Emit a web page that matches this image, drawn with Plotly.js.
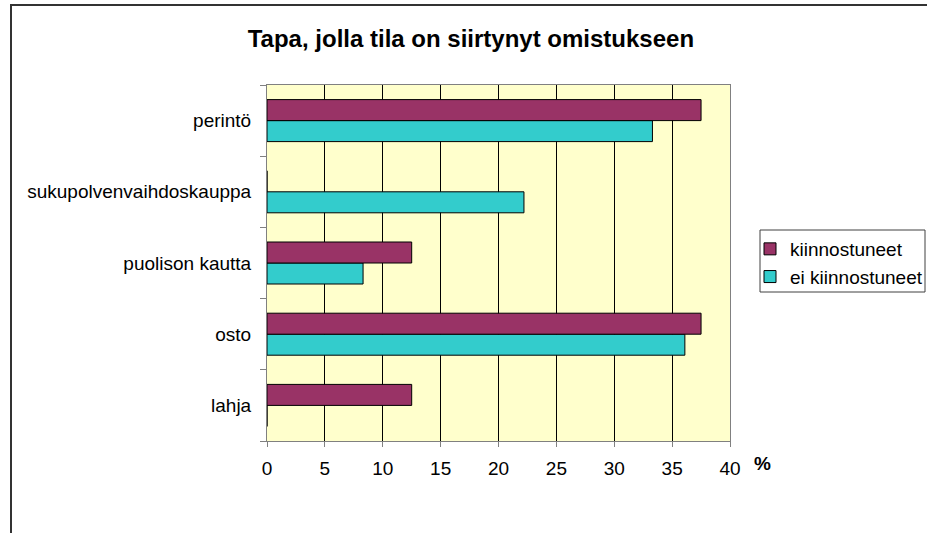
<!DOCTYPE html>
<html>
<head>
<meta charset="utf-8">
<script src="https://cdn.plot.ly/plotly-3.0.1.min.js"></script>
<style>
  html, body { margin: 0; padding: 0; background: #fff; }
  #wrap { position: relative; width: 927px; height: 533px; overflow: hidden; }
  #chart { position: absolute; left: 0; top: 0; width: 927px; height: 533px; }
  #frame { position: absolute; left: 10px; top: 4px; width: 1000px; height: 600px;
           border-left: 2px solid #333; border-top: 2px solid #333; pointer-events: none; }
</style>
</head>
<body>
<div id="wrap">
  <div id="chart"></div>
  <div id="frame"></div>
</div>
<script>
// Data (categories listed bottom to top)
const categories = ["lahja", "osto", "puolison kautta", "sukupolvenvaihdoskauppa", "perintö"];
const kiinnostuneet = [12.5, 37.5, 12.5, 0, 37.5];
const eiKiinnostuneet = [0, 36.1, 8.3, 22.2, 33.3];
const seriesNames = ["kiinnostuneet", "ei kiinnostuneet"];
const xTicks = [0, 5, 10, 15, 20, 25, 30, 35, 40];
const titleText = "Tapa, jolla tila on siirtynyt omistukseen";
const unitText = "%";

const FONT = "Liberation Sans, Arial, sans-serif";

// plot-area geometry (pixels) used to place the legend frame
const W = 927, H = 533, ML = 267, MR = 197, MT = 85, MB = 92;
const PW = W - ML - MR, PH = H - MT - MB;
const px2x = p => (p - ML) / PW;
const px2y = p => (H - MB - p) / PH;

const traces = [
  {
    type: "bar", orientation: "h", name: seriesNames[1],
    y: categories, x: eiKiinnostuneet,
    marker: { color: "#33CCCC", line: { color: "#000", width: 1 } },
    hoverinfo: "x+y"
  },
  {
    type: "bar", orientation: "h", name: seriesNames[0],
    y: categories, x: kiinnostuneet,
    marker: { color: "#993366", line: { color: "#000", width: 1 } },
    hoverinfo: "x+y"
  }
];

const layout = {
  width: W, height: H, autosize: false,
  margin: { l: ML, r: MR, t: MT, b: MB, pad: 0 },
  paper_bgcolor: "#ffffff",
  plot_bgcolor: "#FFFFCC",
  font: { family: FONT, size: 19, color: "#000" },
  barmode: "group",
  bargap: 0.41,
  bargroupgap: 0,
  showlegend: true,
  title: {
    text: "<b>" + titleText + "</b>",
    font: { family: FONT, size: 24, color: "#000" },
    xref: "container", yref: "container",
    x: 0.508, xanchor: "center",
    y: 0.928, yanchor: "middle"
  },
  xaxis: {
    range: [0, 40],
    tickvals: xTicks,
    ticktext: xTicks.map(String),
    showgrid: true, gridcolor: "#000", gridwidth: 1,
    zeroline: false,
    showline: true, linecolor: "#808080", linewidth: 1, mirror: true,
    ticks: "outside", ticklen: 5, tickcolor: "#808080", tickwidth: 1,
    tickfont: { family: FONT, size: 19, color: "#000" },
    ticklabelstandoff: 5,
    automargin: false,
    fixedrange: true
  },
  yaxis: {
    type: "category",
    categoryorder: "array", categoryarray: categories,
    range: [-0.5, categories.length - 0.5],
    showgrid: false, zeroline: false,
    showline: true, linecolor: "#808080", linewidth: 1, mirror: true,
    ticks: "outside", tickson: "boundaries", ticklen: 6, tickcolor: "#808080", tickwidth: 1,
    tickfont: { family: FONT, size: 19, color: "#000" },
    ticklabelstandoff: 11,
    automargin: false,
    fixedrange: true
  },
  legend: {
    xref: "container", yref: "container",
    x: 750 / W, xanchor: "left",
    y: 1 - 230 / H, yanchor: "top",
    bgcolor: "rgba(0,0,0,0)",
    borderwidth: 0,
    font: { family: FONT, size: 19, color: "#000" },
    traceorder: "reversed",
    itemwidth: 30
  },
  shapes: [
    {
      type: "rect", xref: "paper", yref: "paper",
      x0: px2x(760), x1: px2x(925), y0: px2y(292), y1: px2y(230),
      line: { color: "#404040", width: 1 }, fillcolor: "#ffffff", layer: "below"
    }
  ],
  annotations: [
    {
      text: "<b>" + unitText + "</b>",
      xref: "paper", yref: "paper",
      x: 1.071, y: -0.062, xanchor: "center", yanchor: "middle",
      showarrow: false,
      font: { family: FONT, size: 19, color: "#000" }
    }
  ]
};

Plotly.newPlot("chart", traces, layout, { displayModeBar: false, staticPlot: true });
</script>
</body>
</html>
